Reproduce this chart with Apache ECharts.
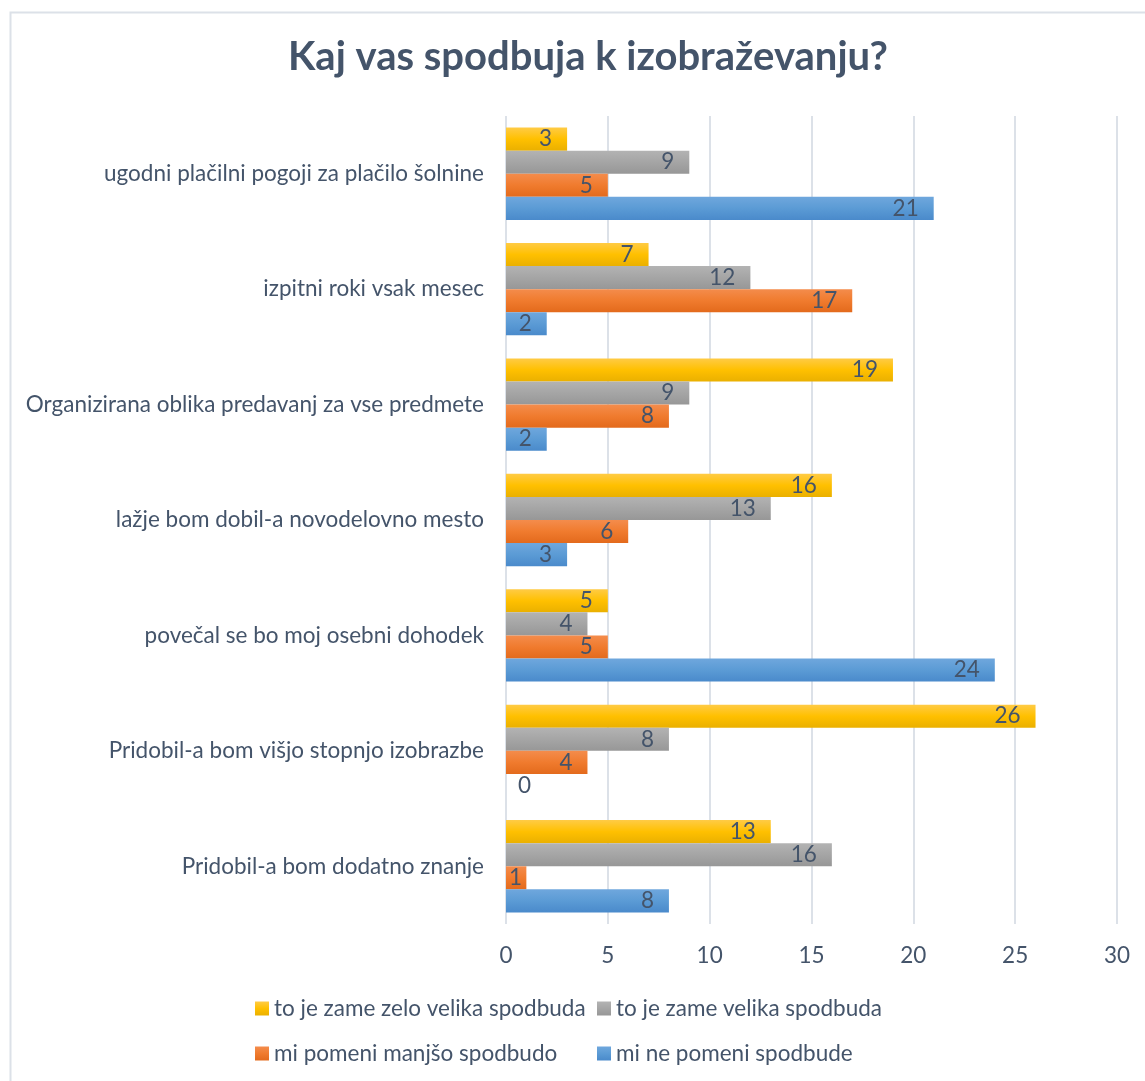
<!DOCTYPE html>
<html>
<head>
<meta charset="utf-8">
<script src="https://cdn.jsdelivr.net/npm/echarts@6/dist/echarts.min.js"></script>
<style>
html,body{margin:0;padding:0;background:#fff;}
#c{width:1145px;height:1081px;}
</style>
</head>
<body>
<div id="c"></div>
<script>
const title = "Kaj vas spodbuja k izobraževanju?";
const categories = [
  "Pridobil-a bom dodatno znanje",
  "Pridobil-a bom višjo stopnjo izobrazbe",
  "povečal se bo moj osebni dohodek",
  "lažje bom dobil-a novodelovno mesto",
  "Organizirana oblika predavanj za vse predmete",
  "izpitni roki vsak mesec",
  "ugodni plačilni pogoji za plačilo šolnine"
];
const seriesNames = [
  "to je zame zelo velika spodbuda",
  "to je zame velika spodbuda",
  "mi pomeni manjšo spodbudo",
  "mi ne pomeni spodbude"
];
const zeloVelika = [13, 26, 5, 16, 19, 7, 3];
const velika = [16, 8, 4, 13, 9, 12, 9];
const manjsa = [1, 4, 5, 6, 8, 17, 5];
const ne = [8, 0, 24, 3, 2, 2, 21];
const xTicks = [0, 5, 10, 15, 20, 25, 30];

const textColor = '#44546A';
const font = 'Lato, "Open Sans", sans-serif';
const fs = 22.5;

function grad(top, mid, bottom) {
  return new echarts.graphic.LinearGradient(0, 0, 0, 1, [
    {offset: 0, color: top}, {offset: 0.5, color: mid}, {offset: 1, color: bottom}
  ]);
}
function prep(arr) {
  return arr.map(v => {
    if (v === 0) return {value: v, label: {position: 'right', distance: 12}};
    if (v <= 1) return {value: v, label: {position: 'insideLeft', distance: 3}};
    return v;
  });
}
function mk(name, arr, color) {
  return {
    name: name, type: 'bar', data: prep(arr),
    barGap: '0%', barCategoryGap: '20%',
    itemStyle: {color: color},
    label: {show: true, position: 'insideRight', distance: 15, color: textColor, fontSize: fs, fontFamily: font},
    emphasis: {disabled: true}
  };
}

const chart = echarts.init(document.getElementById('c'), null, {renderer: 'canvas'});
chart.setOption({
  backgroundColor: '#fff',
  animation: false,
  title: {
    text: title, left: 583, top: 32, textAlign: 'center',
    textStyle: {color: textColor, fontSize: 40, fontWeight: 'bold', fontFamily: font}
  },
  graphic: [{
    type: 'rect', left: 8, top: 10, silent: true, z: -10,
    shape: {width: 1200, height: 1200},
    style: {fill: 'none', stroke: '#DCE1E8', lineWidth: 2}
  }],
  grid: {left: 506, right: 28, top: 116, bottom: 157, containLabel: false},
  xAxis: {
    type: 'value', min: xTicks[0], max: xTicks[xTicks.length - 1], interval: xTicks[1] - xTicks[0],
    axisLine: {show: false}, axisTick: {show: false},
    splitLine: {show: true, lineStyle: {color: '#DCE1E8', width: 2}},
    axisLabel: {color: textColor, fontSize: fs, fontFamily: font, margin: 20}
  },
  yAxis: {
    type: 'category', data: categories,
    axisLine: {show: false}, axisTick: {show: false},
    axisLabel: {color: textColor, fontSize: fs, fontFamily: font, margin: 22}
  },
  legend: [
    {
      data: [seriesNames[0], seriesNames[2]], orient: 'vertical', left: 250, top: 992,
      itemWidth: 14, itemHeight: 14, itemGap: 22, icon: 'rect',
      textStyle: {color: textColor, fontSize: fs, fontFamily: font}, selectedMode: false
    },
    {
      data: [seriesNames[1], seriesNames[3]], orient: 'vertical', left: 592, top: 992,
      itemWidth: 14, itemHeight: 14, itemGap: 22, icon: 'rect',
      textStyle: {color: textColor, fontSize: fs, fontFamily: font}, selectedMode: false
    }
  ],
  series: [
    mk(seriesNames[0], zeloVelika, grad('#FFCB45', '#FFC000', '#EAB000')),
    mk(seriesNames[1], velika, grad('#B3B3B3', '#A5A5A5', '#979797')),
    mk(seriesNames[2], manjsa, grad('#F48C4C', '#F07B2E', '#E36A1C')),
    mk(seriesNames[3], ne, grad('#6FA7DD', '#5B9BD5', '#4A8ACB'))
  ]
});
</script>
</body>
</html>
